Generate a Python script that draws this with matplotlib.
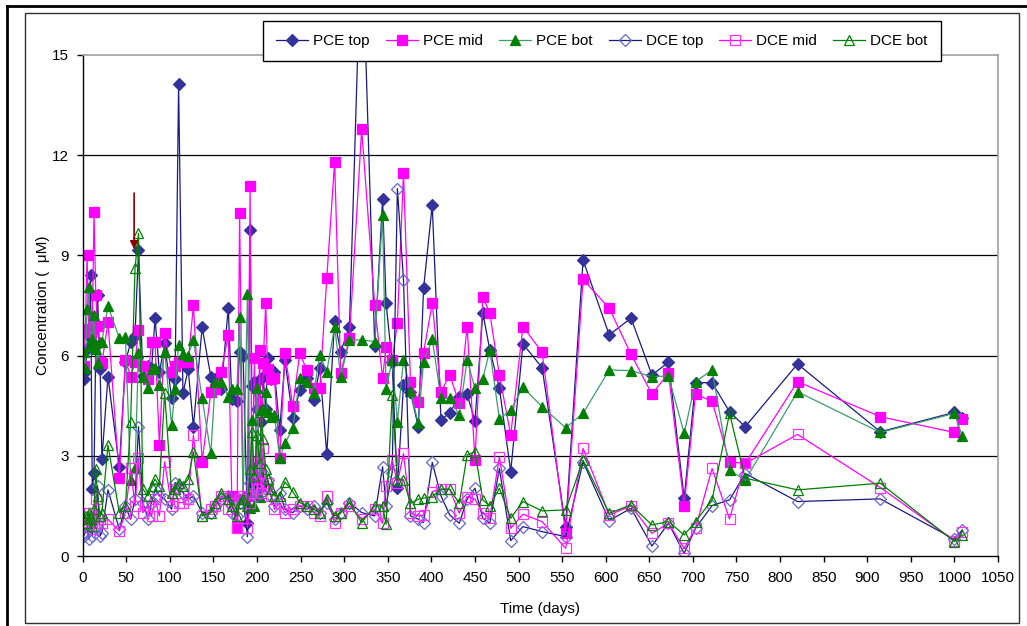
import numpy as np
import matplotlib.pyplot as plt
from matplotlib.lines import Line2D
from matplotlib.patches import Rectangle

plt.rcParams['font.family'] = ['Liberation Sans', 'DejaVu Sans']

# sampling days (shared by all six series)
days = [1, 3, 5, 7, 9, 11, 13, 15, 17, 20,
        22, 29, 42, 49, 55, 60, 64, 69, 75, 79,
        83, 88, 94, 102, 106, 110, 115, 121, 127, 137,
        147, 152, 159, 167, 171, 177, 180, 184, 189, 192,
        194, 197, 200, 203, 205, 207, 210, 212, 216, 220,
        226, 232, 241, 249, 257, 265, 272, 280, 289, 296,
        306, 320, 335, 344, 348, 355, 361, 368, 376, 385,
        391, 401, 411, 421, 432, 441, 450, 459, 467, 478,
        491, 505, 527, 554, 574, 604, 629, 653, 672, 690,
        703, 722, 742, 760, 820, 915, 1000, 1009]

pce_top = [5.3, 5.5, 6.2, 6.6, 8.4, 2.0, 2.5, 6.3, 7.8, 5.6,
           2.9, 5.37, 2.67, 5.8, 6.4, 6.6, 9.16, 5.4, 5.7, 5.6,
           7.12, 5.5, 6.37, 4.72, 5.3, 14.12, 4.87, 5.6, 3.87, 6.85,
           5.37, 5.3, 5.0, 7.44, 4.7, 4.65, 6.1, 6.0, 1.0, 9.76,
           5.1, 5.2, 4.4, 5.3, 4.0, 5.37, 4.4, 5.92, 5.3, 5.52,
           3.77, 5.87, 4.12, 4.97, 5.32, 4.67, 5.62, 3.05, 7.04, 6.12,
           6.85, 19.0, 6.3, 10.68, 7.57, 5.8, 2.03, 5.12, 4.9, 3.87,
           8.01, 10.51, 4.07, 4.29, 4.77, 4.84, 4.04, 7.28, 6.17, 5.03,
           2.52, 6.35, 5.64, 0.88, 8.86, 6.62, 7.12, 5.42, 5.8, 1.73,
           5.19, 5.19, 4.32, 3.87, 5.75, 3.72, 4.3, 4.12]

pce_mid = [5.7, 6.7, 9.0, 6.8, 6.7, 6.8, 10.3, 7.8, 6.9, 5.8,
           5.77, 7.0, 2.33, 5.87, 5.37, 5.8, 6.77, 5.7, 5.3, 6.42,
           6.4, 3.32, 6.67, 5.52, 5.7, 5.8, 5.82, 5.8, 7.51, 2.82,
           4.92, 5.0, 5.52, 6.62, 1.8, 0.88, 10.28, 1.7, 1.8, 11.08,
           2.0, 5.92, 1.8, 6.17, 2.1, 5.77, 7.57, 5.6, 5.3, 5.32,
           2.92, 6.07, 4.49, 6.07, 5.57, 5.02, 5.02, 8.33, 11.79, 5.47,
           6.52, 12.78, 7.51, 5.32, 6.27, 5.87, 6.97, 11.48, 5.22, 4.62,
           6.09, 7.57, 4.92, 5.42, 4.57, 6.87, 2.87, 7.76, 7.27, 5.42,
           3.62, 6.87, 6.1, 0.68, 8.28, 7.42, 6.04, 4.85, 5.47, 1.51,
           4.85, 4.63, 2.82, 2.77, 5.22, 4.17, 3.7, 4.1]

pce_bot = [6.1, 5.62, 7.39, 8.06, 6.3, 6.5, 7.22, 6.2, 5.77, 6.4,
           6.42, 7.49, 6.52, 6.55, 2.28, 2.62, 6.07, 5.37, 5.02, 5.6,
           5.62, 5.12, 6.12, 3.92, 5.0, 6.32, 6.05, 6.0, 6.47, 4.72,
           3.07, 5.22, 5.22, 4.77, 4.99, 4.99, 7.16, 1.7, 7.83, 1.43,
           4.07, 1.5, 5.02, 1.78, 4.37, 4.4, 4.92, 4.3, 4.17, 4.22,
           2.92, 3.37, 3.82, 5.32, 5.22, 4.87, 6.02, 5.52, 6.87, 5.37,
           6.47, 6.47, 6.42, 10.2, 5.0, 5.87, 4.02, 5.87, 4.95, 3.97,
           5.82, 6.49, 4.72, 4.72, 4.22, 5.87, 5.02, 5.3, 6.17, 4.1,
           4.37, 5.05, 4.47, 3.84, 4.27, 5.57, 5.55, 5.37, 5.39, 3.67,
           5.22, 5.57, 2.57, 2.27, 4.92, 3.7, 4.27, 3.59]

dce_top = [0.6, 0.7, 0.9, 0.5, 1.0, 0.6, 1.2, 0.9, 2.1, 0.6,
           0.7, 1.98, 0.8, 1.5, 1.1, 1.7, 3.87, 1.6, 1.1, 1.6,
           2.0, 1.8, 1.7, 1.4, 2.2, 2.1, 1.9, 1.7, 1.8, 1.3,
           1.3, 1.5, 1.7, 1.8, 1.3, 1.2, 1.6, 1.7, 0.58, 2.2,
           1.9, 2.3, 1.8, 2.2, 1.9, 2.5, 2.0, 2.28, 1.8, 1.5,
           1.9, 1.4, 1.3, 1.5, 1.4, 1.5, 1.3, 1.6, 1.1, 1.3,
           1.6, 1.3, 1.2, 2.67, 1.5, 2.5, 11.0, 8.26, 1.2, 1.1,
           1.0, 2.8, 1.8, 1.23, 0.98, 1.7, 2.03, 1.13, 0.98, 2.62,
           0.46, 0.88, 0.73, 0.58, 2.82, 1.06, 1.43, 0.3, 0.98, 0.08,
           0.83, 1.51, 1.68, 2.47, 1.63, 1.71, 0.5, 0.78]

dce_mid = [1.0, 1.1, 0.9, 1.3, 1.0, 1.2, 0.8, 1.7, 1.0, 1.1,
           1.0, 1.1, 0.75, 1.3, 2.62, 1.5, 2.93, 1.3, 1.5, 1.2,
           1.7, 1.2, 2.82, 1.5, 2.0, 1.6, 1.6, 1.7, 3.62, 1.2,
           1.4, 1.5, 1.8, 1.4, 1.6, 0.85, 1.7, 1.8, 0.85, 1.6,
           2.1, 2.77, 2.0, 2.5, 1.9, 3.22, 2.2, 2.2, 1.8, 1.4,
           1.6, 1.3, 1.4, 1.5, 1.5, 1.3, 1.2, 1.8, 1.0, 1.3,
           1.5, 1.1, 1.4, 0.98, 2.1, 2.87, 2.18, 3.07, 1.28, 1.2,
           1.23, 1.93, 2.0, 2.0, 1.28, 1.78, 1.7, 1.28, 1.13, 2.97,
           0.83, 1.25, 1.03, 0.23, 3.22, 1.23, 1.5, 0.68, 0.98, 0.23,
           0.83, 2.62, 1.11, 2.77, 3.64, 2.05, 0.46, 0.73]

dce_bot = [1.1, 1.2, 1.0, 1.3, 1.1, 0.9, 1.4, 2.6, 1.8, 1.2,
           1.3, 3.32, 1.3, 1.5, 4.02, 8.61, 9.66, 2.0, 1.8, 2.1,
           2.3, 2.1, 4.88, 1.9, 2.0, 2.2, 2.1, 2.3, 3.12, 1.2,
           1.3, 1.6, 1.9, 1.7, 1.5, 1.2, 1.6, 1.7, 1.5, 2.6,
           3.72, 2.4, 3.62, 2.77, 4.3, 3.5, 2.6, 2.3, 2.0, 1.8,
           1.8, 2.22, 1.93, 1.6, 1.5, 1.4, 1.3, 1.7, 1.2, 1.3,
           1.6, 1.0, 1.5, 1.5, 0.95, 4.82, 2.28, 2.28, 1.58, 1.7,
           1.73, 1.78, 2.0, 2.0, 1.58, 3.02, 3.12, 1.68, 1.5, 2.03,
           1.13, 1.63, 1.35, 1.38, 2.87, 1.28, 1.53, 0.93, 1.03, 0.63,
           1.03, 1.68, 4.27, 2.33, 1.98, 2.18, 0.43, 0.63]

W, H = 1027, 626
fig = plt.figure(figsize=(W / 100, H / 100), dpi=100)


def fx(px):
    return px / W


def fy(py):
    return 1 - py / H


# outer frame and chart-area border
fig.add_artist(Line2D([fx(7), fx(7)], [0, fy(6)], color='black', lw=2))
fig.add_artist(Line2D([fx(7), 1], [fy(6), fy(6)], color='black', lw=2))
fig.add_artist(Rectangle((fx(25), fy(623)), fx(1019) - fx(25), fy(13) - fy(623),
                         fill=False, edgecolor='#303030', lw=1))

ax = fig.add_axes([fx(82.7), fy(556), fx(998) - fx(82.7), fy(55) - fy(556)])

series = [
    ("PCE top", pce_top, dict(color='#1A1A80', marker='D', ms=6.5, mfc='#333399', mec='#333399')),
    ("PCE mid", pce_mid, dict(color='#FF00FF', marker='s', ms=7, mfc='#FF00FF', mec='#FF00FF')),
    ("PCE bot", pce_bot, dict(color='#3C9C6C', marker='^', ms=7.5, mfc='#008000', mec='#008000')),
    ("DCE top", dce_top, dict(color='#1A1A80', marker='D', ms=6.5, mfc='none', mec='#6666CC')),
    ("DCE mid", dce_mid, dict(color='#FF00FF', marker='s', ms=7, mfc='none', mec='#FF33FF')),
    ("DCE bot", dce_bot, dict(color='#008000', marker='^', ms=7.5, mfc='none', mec='#008000')),
]

for name, vals, st in series:
    ax.plot(days, vals, label=name, lw=0.9, mew=0.9, **st)

for yv in [3, 6, 9, 12]:
    ax.axhline(yv, color='black', lw=0.9, zorder=0.5)

# injection marker
ax.annotate('', xy=(59, 9.1), xytext=(59, 10.95),
            arrowprops=dict(arrowstyle='-|>', color='#8B0000', lw=1.2, mutation_scale=12))

ax.set_xlim(0, 1050)
ax.set_ylim(0, 15)
ax.set_xticks(np.arange(0, 1051, 50))
ax.set_yticks(np.arange(0, 16, 3))
ax.tick_params(direction='out', length=4, width=1, labelsize=11, pad=7)
ax.tick_params(axis='y', pad=6)
for s in ['top', 'right']:
    ax.spines[s].set_color('#A0A0A0')
    ax.spines[s].set_linewidth(1.2)
for s in ['left', 'bottom']:
    ax.spines[s].set_color('black')
    ax.spines[s].set_linewidth(1)

ax.set_xlabel('Time (days)', fontsize=11)
ax.xaxis.set_label_coords(0.5, -0.092)
ax.set_ylabel('Concentration (  \u03bcM)', fontsize=11)
ax.yaxis.set_label_coords(-0.036, 0.5)

leg = ax.legend(loc='center', bbox_to_anchor=(fx(602), fy(41.3)), bbox_transform=fig.transFigure,
                ncol=6, fontsize=11, frameon=True, fancybox=False, edgecolor='black',
                framealpha=1, handlelength=2.1, handletextpad=0.33, columnspacing=1.05,
                borderpad=0.85, borderaxespad=0)
leg.get_frame().set_linewidth(1)

fig.savefig('out.png', dpi=100)
